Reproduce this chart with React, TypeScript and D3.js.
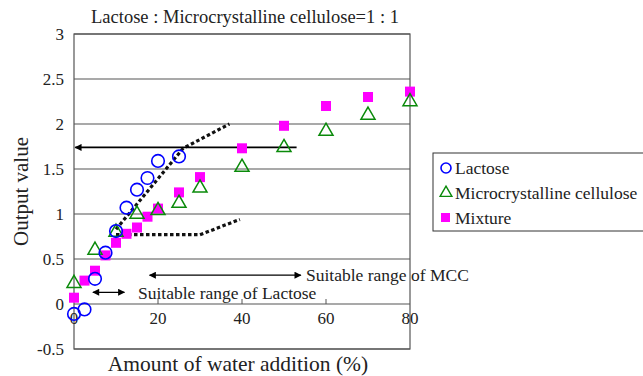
import React from "react";
import * as d3 from "d3";

// data
const lactoseX = [0, 2.5, 5, 7.5, 10, 12.5, 15, 17.5, 20, 25];
const lactoseY = [-0.11, -0.06, 0.28, 0.57, 0.81, 1.07, 1.27, 1.4, 1.59, 1.64];
const mccX = [0, 5, 10, 15, 20, 25, 30, 40, 50, 60, 70, 80];
const mccY = [0.24, 0.61, 0.81, 1.01, 1.05, 1.13, 1.3, 1.53, 1.75, 1.93, 2.11, 2.26];
const mixX = [0, 2.5, 5, 7.5, 10, 12.5, 15, 17.5, 20, 25, 30, 40, 50, 60, 70, 80];
const mixY = [0.07, 0.26, 0.37, 0.54, 0.68, 0.78, 0.85, 0.97, 1.06, 1.24, 1.41, 1.73, 1.98, 2.2, 2.3, 2.36];
const yTicks = [-0.5, 0, 0.5, 1, 1.5, 2, 2.5, 3];
const xTicks = [0, 20, 40, 60, 80];
// guide lines (dotted) and arrows
const guideUpper: [number, number][] = [[10, 0.83], [26, 1.73], [37, 2.0]];
const guideLower: [number, number][] = [[10, 0.77], [30, 0.77], [39.5, 0.94]];
const outputArrow = { x1: 53, x2: 0.3, y: 1.74 };
const mccRange = { x1: 18, x2: 54, y: 0.32, label: "Suitable range of MCC" };
const lactoseRange = { x1: 4.5, x2: 12, y: 0.13, label: "Suitable range of Lactose" };

const W = 643;
const H = 376;
const margin = { top: 34, right: 233, bottom: 27, left: 74 };
const font = "Tinos, 'Liberation Serif', 'Times New Roman', Times, 'Noto Serif', 'DejaVu Serif', serif";

export default function App() {
  const x = d3.scaleLinear().domain([0, 80]).range([margin.left, W - margin.right]);
  const y = d3.scaleLinear().domain([-0.5, 3]).range([H - margin.bottom, margin.top]);
  const line = d3
    .line<[number, number]>()
    .x((d) => x(d[0]))
    .y((d) => y(d[1]));
  const tri = d3.symbol().type(d3.symbolTriangle).size(85)();

  return (
    <svg width={W} height={H} style={{ position: "absolute", left: 0, top: 0, background: "#fff", fontFamily: font }}>
      <defs>
        <marker id="ah" viewBox="0 0 10 10" refX="9" refY="5" markerWidth="9" markerHeight="7" orient="auto-start-reverse" markerUnits="userSpaceOnUse">
          <path d="M0,0 L10,5 L0,10 z" fill="#000" />
        </marker>
      </defs>
      <text x={245} y={23} textAnchor="middle" fontSize={18.5} fill="#222">
        Lactose : Microcrystalline cellulose=1 : 1
      </text>

      {/* grid */}
      {yTicks.map((t) => (
        <g key={t}>
          <line x1={x(0)} x2={x(80)} y1={y(t)} y2={y(t)} stroke="#555" strokeWidth={1.2} />
          <text x={64} y={y(t)} dy="0.35em" textAnchor="end" fontSize={17} fill="#222">
            {t}
          </text>
        </g>
      ))}
      <rect x={x(0)} y={y(3)} width={x(80) - x(0)} height={y(-0.5) - y(3)} fill="none" stroke="#555" strokeWidth={1.2} />
      {xTicks.map((t) => (
        <g key={t}>
          {t > 0 && t < 80 && <line x1={x(t)} x2={x(t)} y1={y(0)} y2={y(0) - 5} stroke="#555" />}
          <text x={x(t)} y={y(0) + 14} dy="0.35em" textAnchor="middle" fontSize={17} fill="#222">
            {t}
          </text>
        </g>
      ))}

      {/* guides */}
      <path d={line(guideUpper) ?? ""} fill="none" stroke="#111" strokeWidth={3.2} strokeDasharray="3.5,2.5" />
      <path d={line(guideLower) ?? ""} fill="none" stroke="#111" strokeWidth={3.2} strokeDasharray="3.5,2.5" />
      <line x1={x(outputArrow.x1)} x2={x(outputArrow.x2)} y1={y(outputArrow.y)} y2={y(outputArrow.y)} stroke="#000" strokeWidth={1.6} markerEnd="url(#ah)" />

      {/* series */}
      {mixX.map((v, i) => (
        <rect key={"m" + i} x={x(v) - 5} y={y(mixY[i]) - 5} width={10} height={10} fill="#ff00ff" />
      ))}
      {mccX.map((v, i) => (
        <path key={"c" + i} d={tri ?? ""} transform={`translate(${x(v)},${y(mccY[i]) + 1})`} fill="none" stroke="#0a8a0a" strokeWidth={1.5} />
      ))}
      {lactoseX.map((v, i) => (
        <circle key={"l" + i} cx={x(v)} cy={y(lactoseY[i])} r={6.3} fill="none" stroke="#0000ff" strokeWidth={1.6} />
      ))}

      {/* range arrows */}
      {[mccRange, lactoseRange].map((r) => (
        <g key={r.label}>
          <line x1={x(r.x1)} x2={x(r.x2)} y1={y(r.y)} y2={y(r.y)} stroke="#000" strokeWidth={1.3} markerStart="url(#ah)" markerEnd="url(#ah)" />
        </g>
      ))}
      <text x={306} y={y(mccRange.y)} dy="0.35em" fontSize={17.5} fill="#222">
        {mccRange.label}
      </text>
      <text x={138} y={y(lactoseRange.y) + 1} dy="0.35em" fontSize={17.5} fill="#222">
        {lactoseRange.label}
      </text>

      {/* axis titles */}
      <text transform={`translate(28,${(y(3) + y(-0.5)) / 2}) rotate(-90)`} textAnchor="middle" fontSize={21} fill="#222">
        Output value
      </text>
      <text x={238} y={371} textAnchor="middle" fontSize={21.5} fill="#222">
        Amount of water addition (%)
      </text>

      {/* legend */}
      <rect x={433} y={153} width={215} height={78} fill="#fff" stroke="#333" strokeWidth={1} />
      <circle cx={446} cy={168} r={5} fill="none" stroke="#0000ff" strokeWidth={1.6} />
      <path d={d3.symbol().type(d3.symbolTriangle).size(60)() ?? ""} transform="translate(446,193)" fill="none" stroke="#0a8a0a" strokeWidth={1.4} />
      <rect x={441} y={213} width={9} height={9} fill="#ff00ff" />
      {["Lactose", "Microcrystalline cellulose", "Mixture"].map((s, i) => (
        <text key={s} x={455} y={[168, 193, 218][i]} dy="0.35em" fontSize={17.5} fill="#222">
          {s}
        </text>
      ))}
    </svg>
  );
}
